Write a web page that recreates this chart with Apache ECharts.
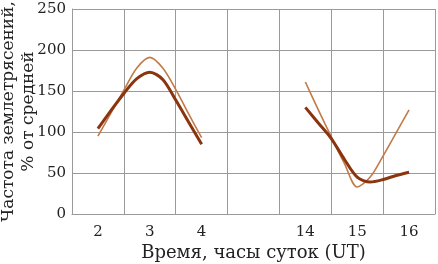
<!DOCTYPE html>
<html>
<head>
<meta charset="utf-8">
<script src="https://cdn.jsdelivr.net/npm/echarts@6/dist/echarts.min.js"></script>
<style>html,body{margin:0;padding:0;background:#fff}#c{width:438px;height:264px}</style>
</head>
<body>
<div id="c"></div>
<script>
const tickLabels = ['2', '3', '4', '', '14', '15', '16'];
const yTicks = [0, 50, 100, 150, 200, 250];
const hoursLeft = [2, 2.25, 2.5, 2.75, 3, 3.25, 3.5, 3.75, 4];
const thinLeft = [95, 123, 151, 178, 191, 178, 152, 122, 93];
const thickLeft = [104, 126, 147, 165, 173, 164, 139, 112, 85];
const hoursRight = [14, 14.25, 14.5, 14.75, 15, 15.25, 15.5, 15.75, 16];
const thinRight = [161, 127, 94, 62, 33, 45, 71, 99, 127];
const thickRight = [130, 111, 92, 67, 45, 39, 42, 47, 51];
const xTitle = 'Время, часы суток (UT)';
const yTitle = 'Частота землетрясений,\n% от средней';

// map an hour to its slot on the broken time axis (category centres)
function slot(h) {
  const i = tickLabels.indexOf(String(Math.floor(h)));
  return i + 0.5 + (h - Math.floor(h));
}
function pts(hours, vals) { return hours.map((h, i) => [slot(h), vals[i]]); }

const FONT = 'DejaVu Serif';
const GRID = '#9a9a9a';
const THIN = '#c27a47';
const THICK = '#8a3510';

const chart = echarts.init(document.getElementById('c'));
chart.setOption({
  animation: false,
  backgroundColor: '#fff',
  grid: { left: 72, right: 3, top: 9, bottom: 50, containLabel: false, outerBoundsMode: 'none' },
  xAxis: [{
    type: 'category', data: tickLabels, boundaryGap: true,
    axisTick: { show: false },
    axisLine: { lineStyle: { color: GRID, width: 1 } },
    splitLine: { show: true, lineStyle: { color: GRID, width: 1 } },
    axisLabel: { fontFamily: FONT, fontSize: 15, color: '#222', margin: 11, interval: 0 },
    name: xTitle, nameLocation: 'middle', nameGap: 30, nameMoveOverlap: false,
    nameTextStyle: { fontFamily: FONT, fontSize: 18, color: '#222' }
  }, {
    type: 'value', min: 0, max: tickLabels.length, show: false
  }],
  yAxis: {
    type: 'value', min: yTicks[0], max: yTicks[yTicks.length - 1], interval: 50,
    axisTick: { show: false },
    axisLine: { show: true, lineStyle: { color: GRID, width: 1 } },
    splitLine: { show: true, lineStyle: { color: GRID, width: 1 } },
    axisLabel: { fontFamily: FONT, fontSize: 15, color: '#222', margin: 6 },
    name: yTitle, nameLocation: 'middle', nameGap: 33, nameRotate: 90, nameMoveOverlap: false,
    nameTextStyle: { fontFamily: FONT, fontSize: 17, color: '#222', lineHeight: 20 }
  },
  series: [
    { type: 'line', xAxisIndex: 1, data: pts(hoursLeft, thinLeft), smooth: 0.3, showSymbol: false, lineStyle: { color: THIN, width: 1.6 } },
    { type: 'line', xAxisIndex: 1, data: pts(hoursRight, thinRight), smooth: 0.3, showSymbol: false, lineStyle: { color: THIN, width: 1.6 } },
    { type: 'line', xAxisIndex: 1, data: pts(hoursLeft, thickLeft), smooth: 0.3, showSymbol: false, lineStyle: { color: THICK, width: 3 } },
    { type: 'line', xAxisIndex: 1, data: pts(hoursRight, thickRight), smooth: 0.3, showSymbol: false, lineStyle: { color: THICK, width: 3 } }
  ]
});
</script>
</body>
</html>
